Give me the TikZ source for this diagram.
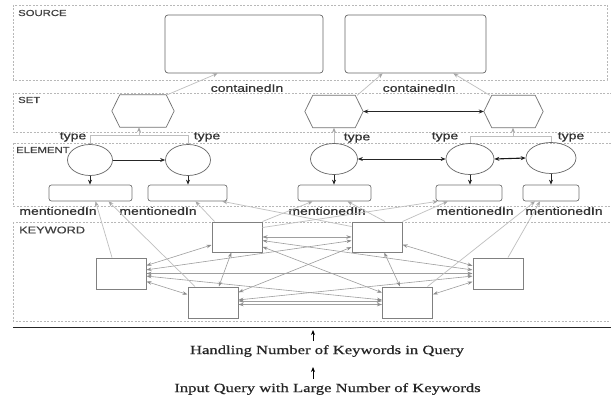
\documentclass[tikz,border=0pt]{standalone}
\usepackage{fontspec}
\setmainfont{Liberation Serif}
\newfontfamily\labfont[FakeBold=0.5]{Liberation Sans}
\newfontfamily\botfont[FakeBold=0.6]{Liberation Serif}
\usetikzlibrary{arrows.meta,shapes.geometric,calc}
\newcommand{\lbl}[1]{\scalebox{1.3}[1]{\labfont\fontsize{10.8}{12}\selectfont #1}}
\newcommand{\lay}[1]{\scalebox{1.3}[1]{\labfont\fontsize{8.7}{10}\selectfont #1}}
\newcommand{\btxt}[1]{\scalebox{1.32}[1]{\botfont\fontsize{12.6}{14}\selectfont #1}}
\begin{document}
\begin{tikzpicture}[x=1pt,y=-1pt,
  layerbox/.style={draw=black!28, dash pattern=on 2pt off 1.5pt, line width=0.6pt},
  laytext/.style={anchor=west, inner sep=0pt, text=black!75},
  srcbox/.style={draw=black!60, rounded corners=3pt, line width=0.7pt, inner sep=0pt},
  elbox/.style={draw=black!55, rounded corners=2.5pt, line width=0.7pt, inner sep=0pt, minimum height=16pt},
  hexph/.style={inner sep=0pt, minimum height=32pt},
  hexline/.style={draw=black!55, line width=0.7pt},
  elli/.style={ellipse, draw=black!60, line width=0.7pt, inner sep=0pt, minimum height=31pt},
  kwbox/.style={draw=black!50, line width=1pt, inner sep=0pt, minimum width=50pt, minimum height=30pt},
  lab/.style={inner sep=0pt, text=black!80},
  lite/.style={draw=black!25, line width=0.7pt, -{Stealth[length=5pt,width=4pt,color=black!35]}},
  litel/.style={draw=black!25, line width=0.7pt},
  kwe/.style={draw=black!38, line width=0.6pt, {Stealth[length=5pt,width=3.5pt,color=black!45]}-{Stealth[length=5pt,width=3.5pt,color=black!45]}},
  bk/.style={draw=black!85, line width=0.7pt, -{Stealth[length=5pt,width=4pt]}},
  bkk/.style={draw=black!85, line width=0.7pt, {Stealth[length=5pt,width=4pt]}-{Stealth[length=5pt,width=4pt]}},
  bkth/.style={draw=black!90, line width=1.1pt, {Stealth[length=5pt,width=4pt]}-{Stealth[length=5pt,width=4pt]}},
  upar/.style={draw=black, line width=0.9pt, -{Stealth[length=5pt,width=4pt]}},
  ]
\useasboundingbox (0,0) rectangle (611,404);
\clip (0,0) rectangle (611,404);
\fill[white] (0,0) rectangle (611,404);

% layers
\draw[layerbox] (13,5) rectangle (607,80);
\draw[layerbox] (13,93) rectangle (620,132);
\draw[layerbox] (13,143) rectangle (620,206);
\draw[layerbox] (13,222) rectangle (620,321);
\node[laytext] (lsrc) at (18,13) {\lay{SOURCE}};
\node[laytext] (lset) at (18,100) {\lay{SET}};
\node[laytext] (lel) at (16,150) {\lay{ELEMENT}};
\node[laytext] (lkw) at (19,230) {\scalebox{1.3}[1]{\labfont\fontsize{9.8}{11}\selectfont KEYWORD}};

% source boxes
\node[srcbox, minimum width=158pt, minimum height=58pt] (s1) at (244,44) {};
\node[srcbox, minimum width=141pt, minimum height=58pt] (s2) at (415.5,44) {};

% hexagons
\node[hexph, minimum width=62pt] (h1) at (143,111) {};
\node[hexph, minimum width=58pt] (h2) at (334,111.5) {};
\node[hexph, minimum width=59pt] (h3) at (513.5,111.5) {};
\foreach \h in {h1,h2,h3}{
  \draw[hexline] (\h.west) -- ($(\h.north west)+(8,0)$) -- ($(\h.north east)+(-8,0)$) -- (\h.east)
     -- ($(\h.south east)+(-8,0)$) -- ($(\h.south west)+(8,0)$) -- cycle;
}

% containedIn
\draw[lite] ($(h1.north east)+(-7,0)$) -- ([xshift=53pt]s1.south west);
\draw[lite] ($(h2.north east)+(-6,0)$) -- ([xshift=38pt]s2.south west);
\draw[lite] ($(h3.north west)+(6,0)$) -- ([xshift=-33pt]s2.south east);
\node[lab] (ci1) at (247,88) {\lbl{containedIn}};
\node[lab] (ci2) at (419,88) {\lbl{containedIn}};
\draw[bkk] (h2.east) -- (h3.west);

% elements
\node[elli, minimum width=45pt] (e1) at (90,160) {};
\node[elli, minimum width=45pt] (e2) at (188,160) {};
\node[elli, minimum width=47pt] (e3) at (334,159) {};
\node[elli, minimum width=48pt] (e4) at (470,159) {};
\node[elli, minimum width=50pt] (e5) at (551,158) {};
\draw[bk] (e1.east) -- (e2.west);
\draw[bkk] (e3.east) -- (e4.west);
\draw[bkth] (e4.east) -- (e5.west);

% type connectors
\coordinate (t1) at (139,135);
\coordinate (t3) at (513,136);
\draw[litel] (e1.north) -- (e1.north |- t1) -- (e2.north |- t1) -- (e2.north);
\draw[lite] (t1) -- (t1 |- h1.south);
\draw[lite] (e3.north) -- (e3.north |- h2.south);
\draw[litel] (e4.north) -- (e4.north |- t3) -- (e5.north |- t3) -- (e5.north);
\draw[lite] (t3) -- (t3 |- h3.south);
\node[lab] (ty1) at (73,137) {\lbl{type}};
\node[lab] (ty2) at (207,137) {\lbl{type}};
\node[lab] (ty3) at (357,138) {\lbl{type}};
\node[lab] (ty4) at (445,137) {\lbl{type}};
\node[lab] (ty5) at (571,137) {\lbl{type}};

% element boxes
\node[elbox, minimum width=83pt] (b1) at (90.5,193) {};
\node[elbox, minimum width=79pt] (b2) at (187.5,193) {};
\node[elbox, minimum width=73pt] (b3) at (334.5,193) {};
\node[elbox, minimum width=66pt] (b4) at (469,193) {};
\node[elbox, minimum width=56pt] (b5) at (551,193) {};
\foreach \e/\b in {e1/b1,e2/b2,e3/b3,e4/b4,e5/b5}{
  \draw[bk] (\e.south) -- (\e.south |- \b.north);
}
\node[lab] (m1) at (58,211) {\lbl{mentionedIn}};
\node[lab] (m2) at (158,211) {\lbl{mentionedIn}};
\node[lab] (m3) at (327,211) {\lbl{mentionedIn}};
\node[lab] (m4) at (475,211) {\lbl{mentionedIn}};
\node[lab] (m5) at (564,211) {\lbl{mentionedIn}};

% keyword boxes
\node[kwbox, minimum height=31pt] (k1) at (121,273.5) {};
\node[kwbox] (k2) at (237,237) {};
\node[kwbox, minimum height=31pt] (k3) at (213,302.5) {};
\node[kwbox] (k4) at (377,237) {};
\node[kwbox, minimum height=31pt] (k5) at (498,273.5) {};
\node[kwbox, minimum height=31pt] (k6) at (407.5,302.5) {};

% keyword edges
\foreach \a/\b in {k1/k2,k1/k3,k1/k4,k1/k5,k1/k6,k2/k3,k2/k4,k2/k5,k2/k6,k3/k4,k3/k5,k4/k5,k4/k6,k5/k6}{
  \draw[kwe] (\a) -- (\b);
}
\draw[kwe] ([yshift=1.5pt]k3.east) -- ([yshift=1.5pt]k6.west);
\draw[kwe] ([yshift=-2pt]k3.east) -- ([yshift=-2pt]k6.west);

% mentionedIn connectors
\draw[lite] ([xshift=-9pt]k1.north) -- ([xshift=5pt]b1.south);
\draw[lite] ([xshift=-18pt]k3.north) -- ([xshift=18pt]b1.south);
\draw[lite] ([xshift=3pt]k2.north west) -- ([xshift=8pt]b2.south);
\draw[lite] ([yshift=-5pt]k4.north west) -- ([xshift=-5pt]b2.south east);
\draw[lite] (k2.north east) -- ([xshift=-22pt]b3.south);
\draw[lite] ([xshift=8pt]k4.north) -- ([xshift=13pt]b3.south);
\draw[lite] ([yshift=-6pt]k2.north east) -- ([xshift=2pt]b4.south west);
\draw[lite] (k4.north east) -- ([xshift=12pt]b4.south west);
\draw[lite] ([xshift=10pt]k5.north) -- ([xshift=-11pt]b5.south);
\draw[lite] ([xshift=20pt]k6.north) -- ([xshift=-16pt]b5.south);

% bottom
\draw[black!85, line width=0.9pt] (13,327) -- (611,327);
\node[inner sep=0pt, text=black!85] (hq) at (327,351) {\btxt{Handling Number of Keywords in Query}};
\node[inner sep=0pt, text=black!85] (iq) at (327.5,389) {\btxt{Input Query with Large Number of Keywords}};
\coordinate (a1s) at (313,341);
\coordinate (a1e) at (313,330);
\coordinate (a2s) at (313,379);
\coordinate (a2e) at (313,367);
\draw[upar] (a1s) -- (a1e);
\draw[upar] (a2s) -- (a2e);
\end{tikzpicture}
\end{document}
